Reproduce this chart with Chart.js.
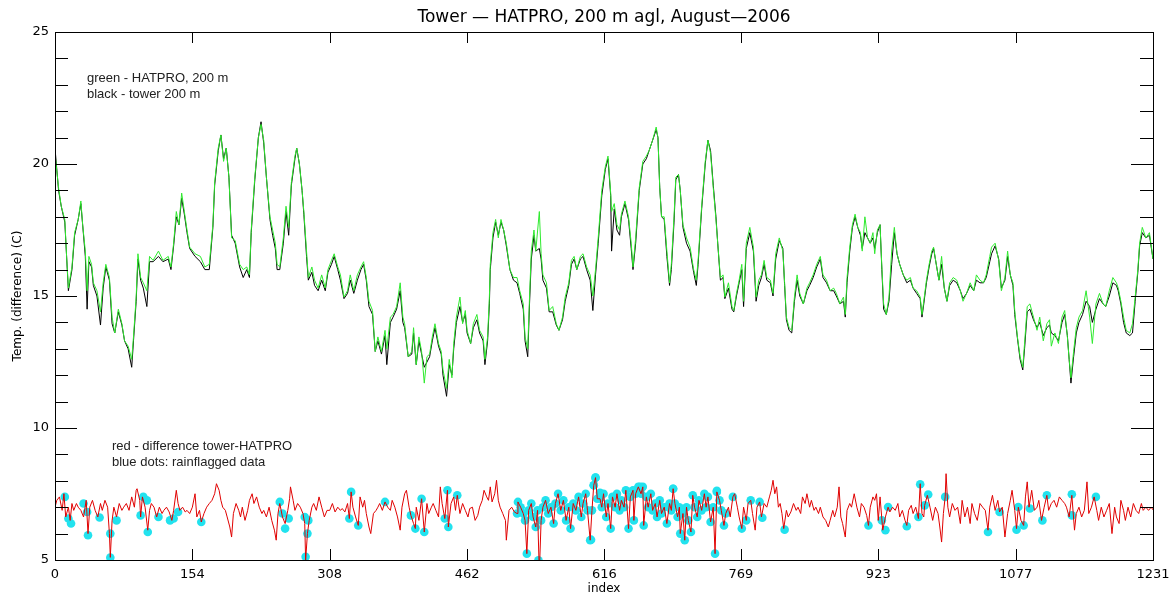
<!DOCTYPE html>
<html>
<head>
<meta charset="utf-8">
<title>Tower - HATPRO, 200 m agl, August-2006</title>
<script src="https://cdn.jsdelivr.net/npm/chart.js@4.4.1/dist/chart.umd.min.js"></script>
<style>
  html, body { margin: 0; padding: 0; background: #fff; }
  #wrap { width: 1174px; height: 596px; }
</style>
</head>
<body>
<div id="wrap"><canvas id="towerChart" width="1174" height="596"></canvas></div>
<script>
// --- DATA ---

const chartTitle = 'Tower \u2014 HATPRO, 200 m agl, August\u20142006';

// sample index shared by the HATPRO and tower temperature series
const sampleIdx = [
  0, 4, 7, 11, 13, 15, 19, 22, 26, 29,
  31, 34, 36, 38, 41, 43, 47, 51, 54, 57,
  61, 64, 67, 71, 75, 78, 82, 86, 88, 91,
  93, 96, 99, 103, 106, 110, 116, 121, 127, 130,
  133, 136, 139, 142, 145, 148, 151, 157, 163, 168,
  173, 177, 179, 183, 186, 189, 192, 195, 198, 202,
  207, 211, 215, 218, 220, 224, 228, 231, 234, 237,
  241, 244, 247, 249, 252, 256, 259, 262, 265, 269,
  271, 274, 277, 279, 282, 284, 288, 291, 295, 299,
  303, 306, 310, 313, 317, 320, 324, 328, 331, 335,
  339, 343, 346, 349, 352, 356, 359, 362, 366, 370,
  372, 376, 379, 383, 387, 390, 392, 396, 400, 402,
  405, 408, 411, 414, 417, 420, 423, 426, 430, 433,
  435, 439, 442, 445, 447, 450, 454, 457, 460, 462,
  466, 469, 473, 476, 480, 482, 485, 487, 488, 491,
  494, 497, 500, 503, 506, 510, 514, 518, 521, 525,
  527, 530, 532, 534, 537, 539, 543, 545, 547, 551,
  554, 558, 562, 565, 569, 572, 576, 579, 582, 585,
  589, 592, 596, 600, 603, 606, 609, 613, 617, 620,
  623, 624, 627, 630, 633, 635, 639, 643, 646, 648,
  651, 655, 659, 663, 666, 670, 674, 676, 678, 680,
  683, 686, 689, 691, 694, 696, 699, 701, 704, 708,
  712, 716, 719, 721, 725, 729, 732, 735, 738, 741,
  743, 746, 749, 751, 755, 759, 761, 764, 767, 770,
  772, 775, 779, 783, 786, 789, 792, 795, 798, 802,
  805, 808, 812, 816, 818, 820, 823, 826, 829, 832,
  835, 839, 843, 846, 850, 854, 858, 861, 865, 869,
  873, 876, 880, 884, 886, 888, 891, 894, 897, 900,
  903, 905, 908, 911, 914, 917, 919, 922, 925, 927,
  929, 932, 935, 938, 941, 944, 947, 951, 955, 959,
  962, 966, 970, 972, 974, 977, 980, 983, 985, 988,
  991, 994, 997, 1000, 1003, 1007, 1011, 1015, 1018, 1022,
  1026, 1030, 1033, 1037, 1041, 1044, 1048, 1050, 1054, 1058,
  1061, 1065, 1068, 1071, 1074, 1076, 1079, 1082, 1085, 1087,
  1090, 1093, 1097, 1101, 1104, 1108, 1112, 1115, 1117, 1121,
  1125, 1129, 1132, 1135, 1137, 1139, 1142, 1145, 1148, 1152,
  1156, 1160, 1163, 1167, 1171, 1175, 1178, 1182, 1186, 1190,
  1192, 1195, 1198, 1201, 1205, 1208, 1211, 1214, 1216, 1219,
  1223, 1227, 1231
];

// green - HATPRO, 200 m
const hatproTemp = [
  20.4, 19.1, 18.4, 17.9, 16.5, 15.3, 16.1, 17.4, 17.9, 18.6,
  17.7, 16.7, 15.2, 16.5, 16.2, 15.5, 15.2, 14.4, 15.5, 16.2,
  15.7, 14.2, 13.6, 14.5, 13.95, 13.3, 13.1, 12.6, 13.45, 14.96,
  16.6, 15.7, 15.5, 15.2, 16.5, 16.35, 16.7, 16.35, 16.5, 16.1,
  17.0, 18.2, 17.7, 18.9, 18.2, 17.5, 16.85, 16.6, 16.5, 16.1,
  16.2, 17.7, 19.3, 20.6, 21.1, 20.1, 20.6, 19.5, 17.2, 17.1,
  16.2, 16.0, 16.1, 15.8, 17.5, 19.5, 21.0, 21.5, 20.9, 19.5,
  18.0, 17.5, 17.0, 16.2, 16.1, 17.2, 18.4, 17.6, 19.3, 20.3,
  20.6, 20.0, 19.0, 18.2, 16.7, 15.7, 16.1, 15.6, 15.3, 15.8,
  15.3, 16.0, 16.35, 16.6, 16.1, 15.8, 14.96, 15.2, 15.8, 15.2,
  15.8, 16.1, 16.3, 15.7, 14.8, 14.45, 12.9, 13.45, 12.9, 13.7,
  13.0, 14.2, 14.3, 14.6, 15.5, 14.2, 13.95, 12.7, 12.9, 13.8,
  12.4, 13.45, 12.9, 11.7, 12.7, 12.8, 13.45, 13.95, 13.2, 12.9,
  12.2, 11.5, 12.6, 11.9, 13.2, 14.2, 14.96, 13.95, 14.45, 13.7,
  13.2, 13.95, 14.3, 13.7, 13.45, 12.6, 13.45, 14.96, 16.2, 17.4,
  17.9, 17.2, 17.9, 17.5, 17.0, 16.0, 15.7, 15.7, 15.2, 14.7,
  13.45, 13.0, 14.96, 16.7, 17.5, 16.7, 18.2, 16.6, 15.8, 15.5,
  14.45, 14.6, 13.95, 13.7, 14.2, 14.96, 15.5, 16.35, 16.5, 16.0,
  16.5, 16.6, 16.1, 15.8, 15.0, 16.0, 17.2, 19.0, 19.9, 20.3,
  18.9, 18.2, 18.5, 17.7, 17.5, 18.1, 18.6, 18.0, 17.0, 16.1,
  17.2, 19.1, 20.1, 20.3, 20.5, 20.9, 21.4, 21.0, 19.1, 18.0,
  18.0, 16.7, 15.5, 16.2, 18.0, 19.5, 19.6, 19.0, 17.7, 17.2,
  16.85, 16.0, 15.6, 16.35, 18.4, 20.1, 20.9, 20.4, 19.1, 17.9,
  17.0, 15.7, 15.8, 14.96, 15.5, 14.6, 14.45, 15.1, 15.6, 16.2,
  14.8, 17.0, 17.6, 16.85, 14.96, 15.6, 15.8, 16.35, 15.7, 15.6,
  15.1, 16.6, 17.2, 16.7, 15.5, 14.2, 13.8, 13.7, 14.96, 15.8,
  15.1, 14.7, 15.3, 15.5, 15.8, 16.2, 16.5, 15.8, 15.6, 15.2,
  15.3, 15.1, 14.7, 14.96, 14.3, 15.7, 16.85, 17.7, 18.1, 17.6,
  17.4, 16.7, 18.0, 17.2, 17.0, 17.4, 16.6, 17.5, 17.7, 16.1,
  14.7, 14.3, 14.96, 16.7, 17.6, 16.6, 16.2, 15.8, 15.6, 15.7,
  15.3, 15.2, 14.96, 14.3, 14.8, 15.6, 16.2, 16.7, 16.85, 16.2,
  15.6, 16.5, 15.3, 14.8, 15.5, 15.7, 15.6, 15.2, 14.8, 15.1,
  15.5, 15.2, 15.8, 15.6, 15.5, 15.8, 16.5, 16.85, 17.0, 16.35,
  15.2, 15.7, 16.7, 15.8, 15.5, 14.45, 13.45, 12.7, 12.3, 13.2,
  14.6, 14.7, 14.2, 13.7, 14.2, 13.3, 13.95, 14.1, 13.1, 13.6,
  13.2, 14.2, 14.45, 13.45, 12.6, 11.9, 12.9, 13.8, 14.2, 14.45,
  15.2, 14.2, 13.2, 14.7, 15.1, 14.7, 14.6, 15.2, 15.7, 15.5,
  15.3, 14.8, 14.2, 13.7, 13.6, 13.95, 14.96, 16.0, 17.0, 17.6,
  17.2, 17.4, 16.4
];

// black - tower 200 m
const towerTemp = [
  20.6, 19.0, 18.4, 17.8, 16.5, 15.2, 16.0, 17.3, 17.9, 18.5,
  17.7, 16.5, 14.5, 16.3, 16.1, 15.4, 15.0, 13.9, 15.3, 16.1,
  15.6, 13.95, 13.6, 14.4, 13.9, 13.3, 13.0, 12.3, 13.3, 14.8,
  16.4, 15.6, 15.3, 14.6, 16.3, 16.3, 16.5, 16.3, 16.4, 16.0,
  16.9, 18.0, 17.7, 18.7, 18.1, 17.4, 16.8, 16.5, 16.3, 16.0,
  16.0, 17.6, 19.2, 20.5, 21.1, 20.2, 20.6, 19.5, 17.3, 17.0,
  16.1, 15.7, 16.0, 15.7, 17.4, 19.4, 21.0, 21.6, 20.8, 19.5,
  17.9, 17.3, 16.8, 16.0, 16.0, 17.0, 18.2, 17.3, 19.2, 20.2,
  20.6, 20.0, 19.0, 18.1, 16.5, 15.6, 15.9, 15.4, 15.2, 15.6,
  15.2, 15.9, 16.2, 16.5, 16.0, 15.6, 14.9, 15.1, 15.6, 15.1,
  15.6, 16.0, 16.2, 15.6, 14.6, 14.3, 12.9, 13.3, 12.8, 13.5,
  12.4, 14.0, 14.2, 14.5, 15.2, 14.0, 13.8, 12.7, 12.8, 13.6,
  12.4, 13.3, 12.8, 12.3, 12.5, 12.7, 13.3, 13.8, 13.1, 12.8,
  12.0, 11.2, 12.4, 12.0, 13.0, 14.0, 14.6, 14.0, 14.3, 13.6,
  13.2, 13.8, 14.1, 13.6, 13.3, 12.4, 13.3, 14.7, 16.0, 17.2,
  17.8, 17.3, 17.8, 17.5, 16.9, 16.0, 15.6, 15.5, 15.1, 14.5,
  13.3, 12.7, 14.7, 16.4, 17.3, 16.7, 16.8, 16.4, 15.6, 15.3,
  14.4, 14.4, 13.9, 13.7, 14.1, 14.8, 15.4, 16.2, 16.4, 16.0,
  16.4, 16.5, 16.0, 15.6, 14.45, 15.8, 17.0, 18.8, 19.8, 20.2,
  18.8, 16.7, 18.3, 17.5, 17.3, 18.0, 18.5, 17.9, 16.8, 16.0,
  17.0, 19.0, 20.0, 20.2, 20.5, 20.9, 21.3, 21.0, 19.1, 18.0,
  17.9, 16.5, 15.4, 16.0, 17.8, 19.4, 19.6, 19.0, 17.6, 17.0,
  16.7, 15.9, 15.4, 16.2, 18.3, 20.0, 20.9, 20.5, 19.2, 18.0,
  17.0, 15.6, 15.7, 14.9, 15.3, 14.5, 14.4, 15.0, 15.5, 16.0,
  14.6, 16.8, 17.4, 16.7, 14.8, 15.4, 15.7, 16.2, 15.6, 15.5,
  15.0, 16.4, 17.1, 16.8, 15.4, 14.1, 13.7, 13.6, 14.8, 15.6,
  15.0, 14.7, 15.2, 15.4, 15.7, 16.1, 16.4, 15.7, 15.5, 15.2,
  15.2, 15.0, 14.7, 14.8, 14.2, 15.5, 16.7, 17.6, 18.0, 17.6,
  17.3, 16.8, 17.4, 17.2, 17.0, 17.2, 16.8, 17.4, 17.7, 16.0,
  14.5, 14.3, 14.8, 16.2, 17.4, 16.6, 16.2, 15.8, 15.5, 15.6,
  15.3, 15.1, 14.9, 14.2, 14.7, 15.5, 16.1, 16.6, 16.8, 16.2,
  15.6, 16.2, 15.3, 14.8, 15.4, 15.6, 15.5, 15.2, 14.9, 15.1,
  15.4, 15.2, 15.6, 15.5, 15.5, 15.7, 16.3, 16.6, 16.9, 16.4,
  15.3, 15.6, 16.5, 15.8, 15.4, 14.3, 13.4, 12.6, 12.2, 13.0,
  14.4, 14.5, 14.1, 13.8, 14.0, 13.5, 13.8, 13.9, 13.6, 13.5,
  13.3, 14.0, 14.3, 13.5, 12.6, 11.7, 12.7, 13.6, 14.0, 14.3,
  14.8, 14.6, 14.0, 14.5, 14.9, 14.7, 14.6, 15.0, 15.5, 15.4,
  15.2, 14.7, 14.0, 13.6, 13.5, 13.6, 14.8, 15.9, 16.9, 17.4,
  17.2, 17.3, 16.4
];

// red - difference tower-HATPRO (plotted around 7)
const diffIdx = [
  0, 2, 5, 8, 10, 12, 15, 17, 19, 21,
  24, 26, 29, 32, 35, 37, 39, 42, 45, 48,
  51, 53, 56, 59, 61, 62, 64, 66, 69, 72,
  75, 77, 80, 83, 86, 89, 91, 92, 95, 96,
  98, 101, 104, 106, 108, 111, 114, 117, 120, 122,
  125, 128, 131, 133, 136, 138, 140, 143, 146, 148,
  151, 154, 157, 159, 162, 164, 167, 170, 173, 176,
  179, 181, 184, 186, 188, 191, 193, 196, 198, 200,
  203, 206, 208, 210, 213, 216, 218, 221, 223, 226,
  229, 232, 234, 237, 240, 243, 246, 248, 250, 252,
  255, 258, 261, 263, 264, 267, 269, 272, 275, 278,
  280, 281, 283, 285, 288, 290, 293, 296, 299, 302,
  305, 308, 311, 314, 317, 320, 322, 325, 328, 330,
  332, 334, 337, 340, 342, 345, 347, 349, 352, 354,
  357, 360, 362, 364, 367, 370, 373, 376, 378, 381,
  384, 387, 389, 392, 394, 397, 399, 402, 404, 405,
  408, 411, 414, 417, 419, 422, 424, 427, 430, 432,
  434, 437, 440, 441, 444, 447, 449, 451, 454, 457,
  460, 463, 465, 468, 471, 474, 476, 479, 481, 484,
  486, 488, 490, 493, 495, 497, 499, 502, 505, 506,
  509, 512, 515, 518, 519, 522, 525, 527, 529, 531,
  534, 536, 539, 541, 543, 545, 547, 550, 553, 556,
  559, 561, 564, 567, 570, 573, 576, 578, 581, 584,
  587, 590, 592, 595, 597, 600, 602, 604, 606, 608,
  611, 613, 615, 618, 620, 623, 625, 628, 630, 633,
  635, 638, 640, 643, 645, 648, 649, 651, 654, 657,
  659, 660, 663, 665, 668, 670, 673, 675, 678, 680,
  683, 686, 689, 691, 693, 695, 698, 700, 701, 704,
  706, 708, 710, 713, 715, 717, 720, 722, 725, 728,
  730, 732, 735, 738, 740, 742, 745, 747, 750, 752,
  755, 757, 760, 762, 765, 767, 770, 772, 775, 777,
  780, 782, 785, 787, 790, 792, 795, 798, 801, 803,
  805, 807, 809, 811, 813, 815, 817, 820, 822, 825,
  828, 831, 833, 836, 838, 841, 843, 846, 848, 851,
  853, 856, 858, 861, 864, 867, 869, 872, 874, 877,
  879, 881, 883, 886, 888, 891, 893, 896, 899, 902,
  904, 907, 910, 912, 914, 917, 919, 921, 923, 925,
  928, 931, 934, 936, 939, 942, 945, 947, 950, 953,
  955, 957, 960, 962, 965, 968, 970, 972, 974, 975,
  978, 981, 984, 987, 990, 992, 994, 996, 998, 999,
  1001, 1003, 1006, 1009, 1012, 1015, 1017, 1020, 1023, 1026,
  1028, 1031, 1034, 1037, 1040, 1043, 1046, 1048, 1051, 1054,
  1057, 1059, 1062, 1065, 1068, 1071, 1073, 1076, 1078, 1080,
  1083, 1086, 1088, 1090, 1092, 1095, 1098, 1101, 1103, 1106,
  1109, 1112, 1114, 1117, 1120, 1123, 1126, 1129, 1132, 1134,
  1137, 1140, 1143, 1145, 1148, 1151, 1154, 1157, 1159, 1162,
  1165, 1168, 1170, 1173, 1176, 1179, 1182, 1185, 1188, 1190,
  1193, 1195, 1198, 1200, 1203, 1206, 1209, 1212, 1215, 1218,
  1220, 1223, 1226, 1229, 1231
];
const diffVal = [
  7.0, 7.26, 7.39, 6.88, 7.51, 6.63, 7.0, 6.5, 7.14, 6.88,
  7.14, 7.0, 6.88, 6.63, 7.26, 6.0, 7.0, 7.26, 6.88, 6.63,
  7.14, 6.88, 7.26, 7.0, 6.0, 5.1, 6.5, 7.0, 6.63, 7.14,
  6.88, 7.0, 7.14, 6.88, 7.39, 7.0, 7.64, 7.7, 7.26, 6.63,
  7.39, 7.0, 6.13, 6.88, 7.14, 7.0, 6.63, 7.0, 6.76, 6.88,
  7.0, 6.82, 6.5, 6.88, 7.64, 7.14, 6.88, 7.0, 6.82, 6.88,
  6.76, 7.0, 7.51, 6.63, 6.88, 6.44, 6.76, 7.0, 7.14, 7.26,
  7.51, 7.89, 7.64, 7.26, 7.0, 6.88, 6.63, 6.25, 5.87, 6.76,
  7.14, 6.88, 6.63, 7.0, 6.5, 6.88, 7.26, 7.51, 7.14, 7.39,
  7.0, 6.76, 6.88, 6.63, 7.0, 6.5, 6.13, 5.75, 6.76, 7.14,
  6.63, 6.38, 6.88, 7.32, 7.77, 7.26, 6.88, 7.14, 7.0, 6.76,
  6.38, 4.99, 6.0, 6.5, 7.0, 7.14, 6.88, 7.39, 7.0, 6.63,
  6.88, 6.88, 7.14, 6.82, 7.0, 6.88, 6.95, 6.82, 7.14, 6.57,
  7.58, 7.0, 6.63, 6.31, 7.39, 7.0, 7.26, 6.76, 6.25, 6.0,
  6.76, 6.88, 7.0, 7.14, 6.88, 7.2, 7.0, 6.88, 7.26, 7.0,
  6.63, 6.13, 7.0, 7.51, 7.64, 7.0, 6.69, 6.38, 6.19, 7.0,
  6.5, 7.32, 6.06, 7.14, 6.76, 7.0, 7.14, 6.88, 6.63, 7.77,
  7.14, 6.57, 7.64, 6.25, 7.14, 7.39, 6.88, 7.45, 6.76, 7.14,
  6.88, 6.63, 6.95, 7.0, 6.5, 6.69, 7.0, 7.26, 7.64, 7.39,
  7.26, 7.77, 7.2, 7.51, 8.02, 7.26, 7.0, 6.76, 6.5, 5.75,
  6.88, 7.0, 6.82, 6.76, 7.2, 7.0, 6.76, 6.5, 5.24, 6.88,
  7.14, 6.63, 6.25, 6.88, 4.5, 6.5, 7.0, 7.26, 6.76, 7.0,
  6.38, 7.14, 7.51, 6.88, 7.26, 6.5, 7.0, 6.19, 7.14, 6.88,
  7.39, 6.63, 7.14, 7.51, 6.88, 5.75, 6.88, 7.83, 8.12, 7.32,
  7.32, 7.0, 7.51, 6.63, 7.14, 6.19, 7.39, 7.0, 7.51, 6.88,
  7.26, 7.0, 7.64, 6.19, 7.39, 7.64, 6.5, 7.51, 7.77, 7.51,
  7.77, 6.31, 7.39, 7.0, 7.51, 6.88, 7.14, 6.63, 7.26, 6.76,
  7.0, 6.38, 7.14, 6.88, 7.7, 7.14, 6.63, 7.0, 6.0, 6.76,
  5.75, 7.0, 6.5, 6.06, 7.45, 7.0, 6.63, 7.26, 6.88, 7.51,
  7.0, 7.39, 6.44, 7.0, 5.24, 7.58, 7.26, 6.88, 6.31, 6.76,
  7.0, 6.63, 7.39, 7.51, 7.0, 6.63, 6.19, 7.0, 6.5, 7.14,
  7.26, 6.76, 6.13, 7.0, 7.2, 6.63, 7.14, 7.0, 7.39, 7.64,
  8.02, 7.51, 7.77, 7.0, 7.14, 6.76, 6.19, 6.88, 6.63, 6.82,
  7.14, 6.88, 7.0, 6.76, 7.39, 7.14, 7.51, 7.0, 7.26, 6.88,
  7.0, 6.76, 7.0, 6.63, 6.5, 6.25, 6.5, 6.88, 6.63, 7.0,
  7.77, 6.63, 6.38, 5.87, 6.88, 7.14, 7.0, 7.51, 7.0, 6.63,
  7.14, 7.0, 6.69, 6.31, 7.0, 7.39, 7.26, 7.51, 6.5, 7.39,
  6.13, 6.63, 7.0, 6.82, 7.0, 6.88, 7.14, 6.63, 6.88, 6.5,
  6.31, 6.88, 7.07, 6.76, 7.0, 6.57, 7.89, 6.76, 6.63, 7.07,
  7.45, 7.0, 6.5, 7.0, 6.76, 6.25, 5.68, 6.76, 7.39, 8.27,
  7.0, 6.63, 7.14, 6.88, 7.0, 6.38, 7.26, 6.63, 7.0, 6.38,
  7.14, 6.76, 6.5, 7.14, 7.0, 6.88, 6.13, 7.0, 7.45, 6.88,
  7.26, 6.82, 7.0, 5.87, 6.76, 7.26, 7.64, 6.88, 6.19, 7.0,
  6.5, 6.31, 7.39, 7.96, 7.0, 7.64, 6.88, 7.0, 7.26, 6.5,
  7.0, 7.45, 6.88, 7.14, 7.26, 7.0, 7.39, 7.26, 7.14, 7.0,
  6.63, 7.45, 6.13, 6.76, 7.0, 6.63, 6.88, 7.96, 6.76, 7.0,
  7.39, 6.88, 6.5, 7.0, 6.63, 6.88, 7.14, 6.0, 7.0, 6.63,
  6.38, 7.26, 6.88, 6.5, 7.0, 6.63, 7.14, 6.88, 6.76, 7.14,
  6.88, 7.0, 6.88, 7.0, 6.9
];

// blue dots: rainflagged data outside the long rainy stretch (index, plotted difference)
const rainIdx = [
  11, 15, 18, 32, 36, 37, 50, 62, 62, 69,
  96, 99, 103, 104, 116, 129, 133, 138, 164, 252,
  255, 258, 262, 280, 281, 283, 284, 330, 332, 340,
  370, 399, 404, 411, 414, 437, 440, 441, 451, 542,
  601, 604, 606, 611, 656, 693, 742, 760, 770, 775,
  780, 790, 793, 818, 912, 927, 931, 934, 955, 968,
  970, 975, 979, 998, 1046, 1059, 1078, 1080, 1086, 1093,
  1107, 1112, 1140, 1140, 1167
];
const rainVal = [
  7.39, 6.57, 6.38, 7.14, 6.82, 5.94, 6.61, 6.0, 5.09, 6.5,
  6.69, 7.39, 7.26, 6.06, 6.63, 6.5, 6.57, 6.82, 6.44, 7.2,
  6.76, 6.19, 6.57, 6.63, 5.12, 6.0, 6.5, 6.57, 7.58, 6.31,
  7.2, 6.69, 6.19, 7.32, 6.06, 6.57, 7.64, 6.25, 7.45, 4.99,
  5.77, 7.83, 8.12, 7.55, 7.77, 7.7, 7.62, 7.39, 6.19, 6.5,
  7.26, 7.2, 6.6, 6.15, 6.31, 6.5, 6.13, 7.01, 6.28, 6.63,
  7.87, 7.07, 7.48, 7.39, 6.06, 6.82, 6.15, 7.01, 6.31, 6.95,
  6.5, 7.45, 7.49, 6.69, 7.39
];
// index stretch in which every sample is rain flagged
const rainSpanStart = 517;
const rainSpanEnd = 752;

const xTickValues = [0, 154, 308, 462, 616, 769, 923, 1077, 1231];
const yTickValues = [5, 10, 15, 20, 25];

// notes written inside the frame, as in the original IDL plot
const noteLinesTop = ['green - HATPRO, 200 m', 'black - tower 200 m'];
const noteLinesBottom = ['red - difference tower-HATPRO', 'blue dots: rainflagged data'];

// --- HELPERS ---

function toPoints(xs, ys) {
    if (xs.length !== ys.length) console.warn('length mismatch', xs.length, ys.length);
    return xs.map((x, i) => ({ x: x, y: ys[i] }));
}

function rainPoints() {
    const spanPts = toPoints(diffIdx, diffVal)
        .filter(p => p.x >= rainSpanStart && p.x <= rainSpanEnd && p.y > 4.9);
    return spanPts.concat(toPoints(rainIdx, rainVal));
}

// IDL-style frame: box on all four sides, ticks pointing inward, title and notes
const idlFrame = {
    id: 'idlFrame',
    afterDatasetsDraw(chart) {
        const { ctx, chartArea: a, scales: { x, y } } = chart;
        ctx.save();
        ctx.strokeStyle = '#000';
        ctx.lineWidth = 1;
        ctx.strokeRect(Math.round(a.left) + 0.5, Math.round(a.top) + 0.5,
            Math.round(a.right - a.left), Math.round(a.bottom - a.top));

        ctx.beginPath();
        for (let v = 5; v <= 25; v++) {
            const py = Math.round(y.getPixelForValue(v)) + 0.5;
            const len = yTickValues.includes(v) ? 22 : 13;
            ctx.moveTo(a.left, py); ctx.lineTo(a.left + len, py);
            ctx.moveTo(a.right, py); ctx.lineTo(a.right - len, py);
        }
        xTickValues.forEach(v => {
            const px = Math.round(x.getPixelForValue(v)) + 0.5;
            ctx.moveTo(px, a.bottom); ctx.lineTo(px, a.bottom - 11);
            ctx.moveTo(px, a.top); ctx.lineTo(px, a.top + 11);
        });
        ctx.stroke();

        // title centred over the plot box
        ctx.fillStyle = '#000';
        ctx.font = '17px "DejaVu Sans", sans-serif';
        ctx.textAlign = 'center';
        ctx.textBaseline = 'middle';
        ctx.fillText(chartTitle, (a.left + a.right) / 2, a.top - 14);

        ctx.fillStyle = '#222';
        ctx.font = '13px "Liberation Sans", Arial, sans-serif';
        ctx.textAlign = 'left';
        ctx.textBaseline = 'alphabetic';
        noteLinesTop.forEach((t, i) => ctx.fillText(t, a.left + 32, a.top + 50 + i * 16));
        noteLinesBottom.forEach((t, i) => ctx.fillText(t, a.left + 57, a.top + 418 + i * 16));
        ctx.restore();
    }
};

document.addEventListener('DOMContentLoaded', function() {
    const ctx = document.getElementById('towerChart').getContext('2d');
    const axisFont = { family: '"DejaVu Sans", sans-serif', size: 13 };

    new Chart(ctx, {
        type: 'line',
        data: {
            datasets: [
                {
                    label: 'difference tower-HATPRO',
                    data: toPoints(diffIdx, diffVal),
                    borderColor: '#e00000', borderWidth: 1, pointRadius: 0, order: 1
                },
                {
                    label: 'HATPRO, 200 m',
                    data: toPoints(sampleIdx, hatproTemp),
                    borderColor: '#2eea2e', borderWidth: 1, pointRadius: 0, order: 2
                },
                {
                    label: 'tower 200 m',
                    data: toPoints(sampleIdx, towerTemp),
                    borderColor: '#000000', borderWidth: 1, pointRadius: 0, order: 3
                },
                {
                    label: 'rainflagged data',
                    type: 'scatter',
                    data: rainPoints(),
                    backgroundColor: '#22e2ee', borderWidth: 0,
                    pointRadius: 4.3, showLine: false, order: 4
                }
            ]
        },
        options: {
            responsive: false,
            animation: false,
            devicePixelRatio: 1,
            elements: { line: { tension: 0 } },
            layout: { padding: { left: 4, right: 21, top: 32, bottom: 0 } },
            plugins: {
                legend: { display: false },
                tooltip: { enabled: false },
                title: { display: false }
            },
            scales: {
                x: {
                    type: 'linear',
                    min: 0, max: 1231,
                    afterBuildTicks: s => { s.ticks = xTickValues.map(v => ({ value: v })); },
                    afterFit: s => { s.height = 36; s.paddingLeft = 0; s.paddingRight = 0; },
                    grid: { display: false, drawTicks: false },
                    border: { display: false },
                    ticks: { color: '#000', font: axisFont, padding: 7, maxRotation: 0, autoSkip: false, callback: v => String(v) },
                    title: { display: true, text: 'index', color: '#000', font: { family: '"DejaVu Sans", sans-serif', size: 12 }, padding: 0 }
                },
                y: {
                    type: 'linear',
                    min: 5, max: 25,
                    afterBuildTicks: s => { s.ticks = yTickValues.map(v => ({ value: v })); },
                    afterFit: s => { s.width = 51; s.paddingTop = 0; s.paddingBottom = 0; },
                    grid: { display: false, drawTicks: false },
                    border: { display: false },
                    ticks: { color: '#000', font: axisFont, padding: 6, callback: v => String(v) },
                    title: { display: true, text: 'Temp. (difference) (C)', color: '#000', font: { family: '"DejaVu Sans", sans-serif', size: 12 }, padding: { top: 7, bottom: 0 } }
                }
            }
        },
        plugins: [idlFrame]
    });
});
</script>
</body>
</html>
